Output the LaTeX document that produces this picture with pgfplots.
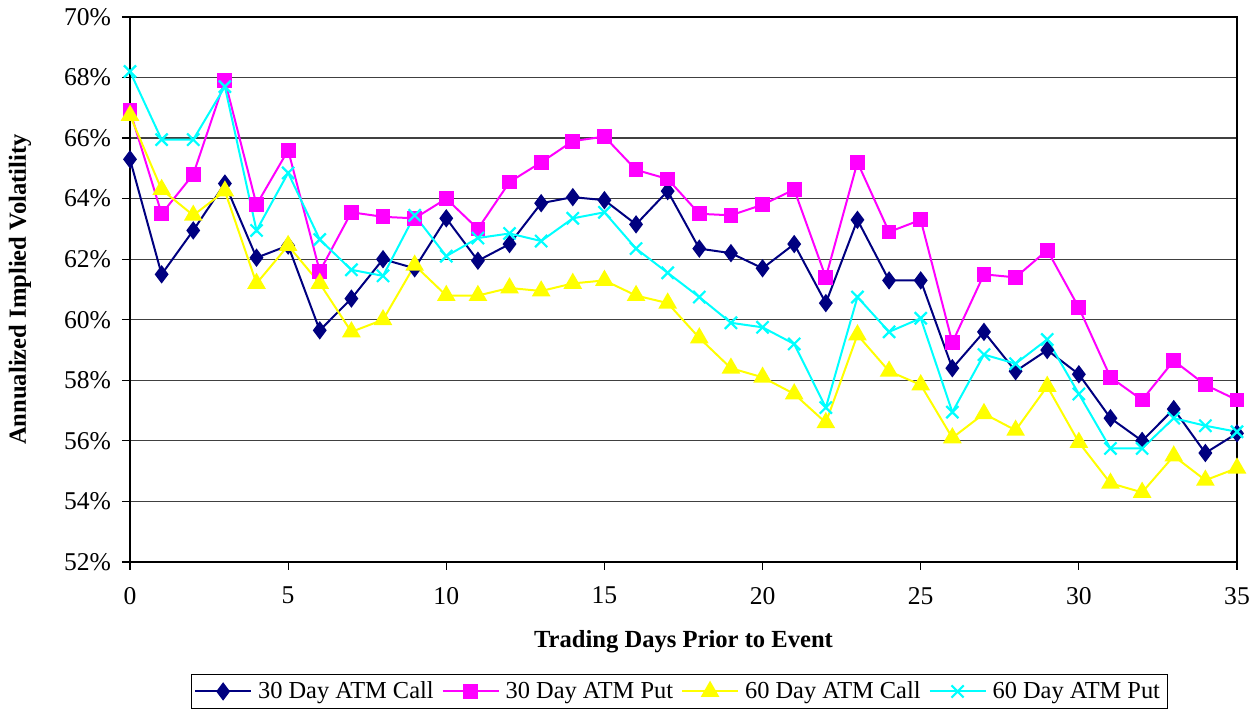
\documentclass[border=0pt]{standalone}
\usepackage{pgfplots}
\pgfplotsset{compat=1.18}
\usepackage{fontspec}
\setmainfont{Liberation Serif}

\definecolor{callthirty}{RGB}{0,0,128}
\definecolor{putthirty}{RGB}{255,0,255}
\definecolor{callsixty}{RGB}{255,255,0}
\definecolor{putsixty}{RGB}{0,255,255}

\begin{document}
\begin{tikzpicture}
\begin{axis}[
    scale only axis,
    width=553.5pt, height=272.5pt,
    xmin=0, xmax=35, ymin=52, ymax=70,
    xtick={0,5,...,35},
    ytick={52,54,...,70},
    yticklabel={\pgfmathprintnumber{\tick}\%},
    /pgf/number format/assume math mode=true,
    tick label style={font=\fontsize{12.8}{15}\selectfont},
    xticklabel style={yshift=-5pt},
    yticklabel style={xshift=-2pt},
    tick align=outside,
    xtick pos=bottom, ytick pos=left,
    major tick length=4pt,
    tick style={black, line width=0.6pt},
    ymajorgrids,
    grid style={black!75, line width=0.6pt},
    axis line style={black, line width=1.1pt},
    xlabel={\textbf{Trading Days Prior to Event}},
    ylabel={\textbf{Annualized Implied Volatility}},
    label style={font=\fontsize{12.3}{14}\selectfont},
    xlabel style={at={(axis description cs:0.5,0)}, anchor=center, yshift=-40pt},
    ylabel style={at={(axis description cs:0,0.5)}, anchor=center, rotate=0, yshift=55pt},
    every axis plot/.append style={line width=1pt},
    legend columns=4,
    legend style={at={(0.496,-0.2055)}, anchor=north, draw=black, line width=0.5pt,
        font=\fontsize{12.2}{14}\selectfont, column sep=1pt,
        inner sep=1.5pt, /tikz/every even column/.append style={column sep=2pt}},
    legend image code/.code={%
        \draw[mark repeat=2, mark phase=2, line width=1pt]
            plot coordinates {(0pt,0pt) (14pt,0pt) (28pt,0pt)};},
]

\addplot[color=callthirty, mark=diamond*, mark size=3.8pt] coordinates {
(0,65.3) (1,61.5) (2,62.95) (3,64.5) (4,62.05) (5,62.45) (6,59.65) (7,60.7) (8,62.0)
(9,61.7) (10,63.35) (11,61.95) (12,62.5) (13,63.85) (14,64.05) (15,63.95) (16,63.15)
(17,64.25) (18,62.35) (19,62.2) (20,61.7) (21,62.5) (22,60.55) (23,63.3) (24,61.3)
(25,61.3) (26,58.4) (27,59.6) (28,58.3) (29,59.0) (30,58.2) (31,56.75) (32,56.0)
(33,57.05) (34,55.6) (35,56.25)
};
\addlegendentry{30 Day ATM Call}

\addplot[color=putthirty, mark=square*, mark size=3.2pt] coordinates {
(0,66.9) (1,63.5) (2,64.8) (3,67.9) (4,63.8) (5,65.6) (6,61.6) (7,63.55) (8,63.4)
(9,63.35) (10,64.0) (11,63.0) (12,64.55) (13,65.2) (14,65.9) (15,66.05) (16,64.95)
(17,64.65) (18,63.5) (19,63.45) (20,63.8) (21,64.3) (22,61.4) (23,65.2) (24,62.9)
(25,63.3) (26,59.25) (27,61.5) (28,61.4) (29,62.3) (30,60.4) (31,58.1) (32,57.35)
(33,58.65) (34,57.85) (35,57.35)
};
\addlegendentry{30 Day ATM Put}

\addplot[color=callsixty, mark=triangle*, mark size=4.4pt] coordinates {
(0,66.75) (1,64.3) (2,63.45) (3,64.25) (4,61.2) (5,62.45) (6,61.2) (7,59.6) (8,60.0)
(9,61.8) (10,60.8) (11,60.8) (12,61.05) (13,60.95) (14,61.2) (15,61.3) (16,60.8)
(17,60.55) (18,59.4) (19,58.4) (20,58.1) (21,57.55) (22,56.6) (23,59.5) (24,58.3)
(25,57.85) (26,56.1) (27,56.9) (28,56.35) (29,57.8) (30,55.95) (31,54.6) (32,54.3)
(33,55.5) (34,54.7) (35,55.1)
};
\addlegendentry{60 Day ATM Call}

\addplot[color=putsixty, mark=x, mark size=4.3pt, mark options={line width=1.1pt}] coordinates {
(0,68.2) (1,65.95) (2,65.95) (3,67.7) (4,62.95) (5,64.85) (6,62.65) (7,61.65) (8,61.45)
(9,63.45) (10,62.1) (11,62.7) (12,62.85) (13,62.6) (14,63.35) (15,63.55) (16,62.35)
(17,61.55) (18,60.75) (19,59.9) (20,59.75) (21,59.2) (22,57.1) (23,60.75) (24,59.6)
(25,60.05) (26,56.95) (27,58.85) (28,58.55) (29,59.35) (30,57.55) (31,55.75) (32,55.75)
(33,56.75) (34,56.5) (35,56.3)
};
\addlegendentry{60 Day ATM Put}

\end{axis}
\pgfresetboundingbox
\path[use as bounding box] (-65pt,-76.5pt) rectangle (564.5pt,281pt);
\end{tikzpicture}
\end{document}
